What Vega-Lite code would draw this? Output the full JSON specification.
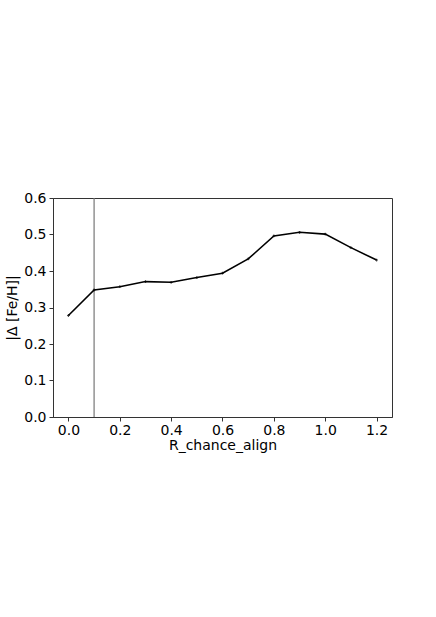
{
  "$schema": "https://vega.github.io/schema/vega-lite/v6.json",
  "autosize": "none",
  "width": 339,
  "height": 219,
  "padding": {"left": 53, "top": 198, "right": 44, "bottom": 200},
  "background": "white",
  "config": {
    "view": {"stroke": "#333", "strokeWidth": 1},
    "font": "DejaVu Sans",
    "axis": {
      "labelFont": "DejaVu Sans",
      "titleFont": "DejaVu Sans",
      "labelFontSize": 14,
      "titleFontSize": 14,
      "titleFontWeight": "normal",
      "labelColor": "black",
      "titleColor": "black",
      "domainColor": "#333",
      "tickColor": "#333",
      "tickSize": 4,
      "labelOverlap": false,
      "labelBound": false,
      "grid": false
    }
  },
  "datasets": {
    "curve": [
      {"r": 0.0, "feh": 0.278},
      {"r": 0.1, "feh": 0.348},
      {"r": 0.2, "feh": 0.357},
      {"r": 0.3, "feh": 0.371},
      {"r": 0.4, "feh": 0.369},
      {"r": 0.5, "feh": 0.382},
      {"r": 0.6, "feh": 0.394},
      {"r": 0.7, "feh": 0.433},
      {"r": 0.8, "feh": 0.496},
      {"r": 0.9, "feh": 0.506},
      {"r": 1.0, "feh": 0.501},
      {"r": 1.1, "feh": 0.464},
      {"r": 1.2, "feh": 0.430}
    ],
    "vline": [{"r": 0.1}]
  },
  "layer": [
    {
      "data": {"name": "vline"},
      "mark": {"type": "rule", "color": "#777", "strokeWidth": 1.2},
      "encoding": {
        "x": {
          "field": "r", "type": "quantitative",
          "scale": {"domain": [-0.06, 1.26], "nice": false, "zero": false},
          "axis": {"values": [0, 0.2, 0.4, 0.6, 0.8, 1.0, 1.2], "format": ".1f", "title": "R_chance_align", "titlePadding": 1, "labelPadding": 2}
        }
      }
    },
    {
      "data": {"name": "curve"},
      "mark": {"type": "line", "color": "black", "strokeWidth": 1.6},
      "encoding": {
        "x": {
          "field": "r", "type": "quantitative",
          "scale": {"domain": [-0.06, 1.26], "nice": false, "zero": false},
          "axis": {"values": [0, 0.2, 0.4, 0.6, 0.8, 1.0, 1.2], "format": ".1f", "title": "R_chance_align", "titlePadding": 1, "labelPadding": 2}
        },
        "y": {
          "field": "feh", "type": "quantitative",
          "scale": {"domain": [0, 0.6], "nice": false},
          "axis": {"values": [0, 0.1, 0.2, 0.3, 0.4, 0.5, 0.6], "tickCount": 7, "format": ".1f", "title": "|Δ [Fe/H]|", "titlePadding": 4, "labelPadding": 3}
        }
      }
    },
    {
      "data": {"name": "curve"},
      "mark": {"type": "point", "shape": "cross", "filled": true, "color": "black", "size": 8},
      "encoding": {
        "x": {
          "field": "r", "type": "quantitative",
          "scale": {"domain": [-0.06, 1.26], "nice": false, "zero": false},
          "axis": {"values": [0, 0.2, 0.4, 0.6, 0.8, 1.0, 1.2], "format": ".1f", "title": "R_chance_align", "titlePadding": 1, "labelPadding": 2}
        },
        "y": {
          "field": "feh", "type": "quantitative",
          "scale": {"domain": [0, 0.6], "nice": false},
          "axis": {"values": [0, 0.1, 0.2, 0.3, 0.4, 0.5, 0.6], "tickCount": 7, "format": ".1f", "title": "|Δ [Fe/H]|", "titlePadding": 4, "labelPadding": 3}
        }
      }
    }
  ]
}
